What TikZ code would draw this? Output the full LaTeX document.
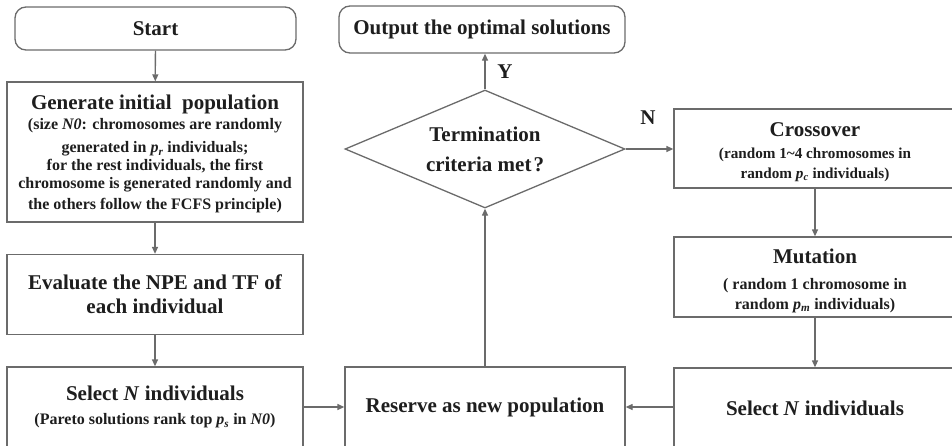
\documentclass[tikz,border=0pt]{standalone}
\usepackage{fontspec}
\setmainfont{Liberation Serif}
\usetikzlibrary{arrows.meta,shapes.geometric}
\definecolor{linec}{HTML}{6B6B6B}
\definecolor{textc}{HTML}{1E1E1E}
\newcommand{\tfont}{\fontsize{21}{24}\selectfont\bfseries}
\newcommand{\sfont}{\fontsize{16}{20}\selectfont\bfseries}
\newcommand{\cfont}{\fontsize{15.2}{20}\selectfont\bfseries}
\begin{document}
\begin{tikzpicture}[x=1pt,y=-1pt,
  box/.style={draw=linec, line width=1.3pt, fill=white, inner sep=0pt, text=textc, align=center, font=\sfont},
  rbox/.style={box, rounded corners=11pt},
  conn/.style={draw=linec, line width=1.3pt, -{Triangle[length=7pt,width=6pt]}},
  lbl/.style={text=textc, font=\tfont, inner sep=0pt},
  txt/.style={text=textc, font=\sfont, inner sep=0pt, align=center}
]
\useasboundingbox (0,0) rectangle (952,445);
\clip (0,0) rectangle (952,445);
\node[rbox, minimum width=281pt, minimum height=43pt] (start) at (155.5,28.5) {\tfont Start};
\node[box, minimum width=296pt, minimum height=140pt] (gen) at (155,152) {};
\node[txt] (gentext) at (155,154)
  {{\tfont Generate initial\ \ population}\\[0pt]
   (size \textit{N0}: chromosomes are randomly\\[3pt]
   generated in \textit{p}\textsubscript{\textit{r}} individuals;\\[-2pt]
   for the rest individuals, the first\\[-2pt]
   chromosome is generated randomly and\\[1pt]
   the others follow the FCFS principle)};
\node[box, minimum width=296pt, minimum height=80pt] (eval) at (155,294.5)
  {\tfont Evaluate the NPE and TF of\\[4pt]\tfont each individual};
\node[box, minimum width=296pt, minimum height=80pt] (selL) at (155,407)
  {{\tfont Select \textit{N} individuals}\\[4pt]
   (Pareto solutions rank top \textit{p}\textsubscript{\textit{s}} in \textit{N0})};
\node[box, diamond, minimum width=280pt, minimum height=118pt] (dec) at (485,149) {};
\node[lbl, align=center] (dectext) at (dec.center)
  {Termination\\[6pt]criteria met\kern2pt?};
\node[box, minimum width=280pt, minimum height=80pt] (res) at (485,407)
  {\tfont Reserve as new population};
\node[rbox, minimum width=286pt, minimum height=47pt] (out) at (482,29.5)
  {\tfont Output the optimal solutions};
\node[box, minimum width=282pt, minimum height=79pt] (cross) at (815,148.5) {};
\node[txt] (crosstext) at (815,152.5)
  {{\tfont Crossover}\\[2pt]
   \cfont (random 1\textasciitilde 4 chromosomes in\\
   \cfont random \textit{p}\textsubscript{\textit{c}} individuals)};
\node[box, minimum width=282pt, minimum height=80pt] (mut) at (815,277) {};
\node[txt] (muttext) at (815,280.5)
  {{\tfont Mutation}\\[6pt]
   ( random 1 chromosome in\\
   random \textit{p}\textsubscript{\textit{m}} individuals)};
\node[box, minimum width=282pt, minimum height=80pt] (selR) at (815,408)
  {\tfont Select \textit{N} individuals};
\draw[conn] (start) -- (gen);
\draw[conn] (gen) -- (eval);
\draw[conn] (eval) -- (selL);
\draw[conn] (selL.east |- res.west) -- (res.west);
\draw[conn] (selR.west |- res.east) -- (res.east);
\draw[conn] (res.north) -- (dec.south);
\draw[conn] (dec.north) -- (dec.north |- out.south);
\draw[conn] (dec.east) -- (cross.west |- dec.east);
\draw[conn] (cross) -- (mut);
\draw[conn] (mut) -- (selR);
\node[lbl] (ylab) at (505,72) {Y};
\node[lbl] (nlab) at (648,118) {N};
\end{tikzpicture}
\end{document}
